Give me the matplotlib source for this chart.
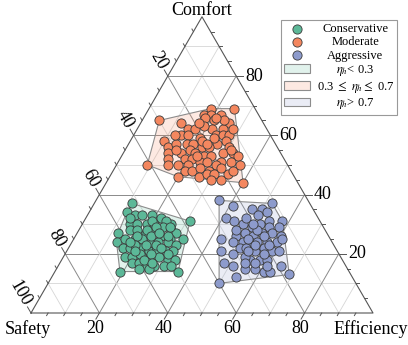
import numpy as np
import matplotlib.pyplot as plt
from matplotlib.colors import to_rgba

plt.rcParams['font.family'] = ['Liberation Serif', 'DejaVu Serif']
plt.rcParams['mathtext.fontset'] = 'stix'

# ternary values in percent, safety = 100 - comfort - efficiency
cons_comfort = [37, 34, 27, 24, 14, 14, 31, 25, 30, 33, 33, 33, 32, 31, 30, 30, 30, 30, 29, 28,
                27, 28, 28, 27, 27, 26, 25, 25, 25, 25, 24, 24, 24, 23, 22, 22, 22, 21, 21, 21,
                21, 19, 19, 19, 19, 19, 18, 18, 17, 17, 16, 16, 16, 16, 15, 15, 32, 31, 29, 28,
                26, 26, 26, 23, 23, 23, 22, 20, 20, 20, 18, 17, 21, 24, 27, 29]
cons_eff = [11, 11, 12, 13, 19, 36, 31, 32, 26, 14, 16, 19, 22, 24, 14, 16, 19, 21, 24, 27,
            29, 15, 17, 20, 22, 25, 28, 15, 18, 20, 23, 25, 28, 31, 16, 18, 21, 24, 26, 29,
            31, 18, 20, 23, 26, 28, 31, 33, 21, 23, 26, 28, 31, 33, 24, 27, 13, 20, 22, 20,
            18, 22, 27, 19, 22, 25, 27, 22, 25, 30, 24, 27, 20, 17, 24, 26]

mod_comfort = [65, 50, 69, 69, 44, 45, 64, 67, 67, 67, 66, 65, 64, 62, 62, 62, 62, 58, 60, 60,
               59, 60, 60, 60, 58, 57, 56, 56, 57, 57, 57, 56, 56, 54, 55, 54, 54, 54, 54, 53,
               52, 52, 52, 53, 53, 51, 51, 50, 50, 50, 51, 51, 50, 48, 48, 49, 48, 47, 48, 46,
               47, 47, 50, 58, 55, 53, 63, 65, 59, 66, 60, 57, 62, 49, 45, 55, 64, 46]
mod_eff = [5, 9, 18, 25, 40, 33, 12, 17, 19, 22, 18, 21, 26, 25, 22, 15, 17, 10, 14, 16,
           20, 24, 26, 28, 28, 26, 30, 12, 14, 17, 19, 22, 24, 17, 19, 21, 13, 29, 32, 34,
           14, 19, 21, 24, 26, 30, 33, 15, 18, 21, 24, 26, 29, 21, 23, 25, 28, 34, 35, 26,
           28, 30, 36, 21, 15, 22, 19, 24, 24, 21, 12, 23, 28, 31, 30, 31, 17, 20]

agg_comfort = [38, 10, 13, 37, 36, 32, 31, 35, 35, 34, 33, 31, 31, 30, 29, 30, 29, 29, 26, 27,
               26, 27, 27, 26, 25, 24, 24, 24, 24, 24, 24, 25, 21, 20, 22, 22, 21, 22, 21, 21,
               17, 16, 15, 15, 14, 14, 16, 12, 18, 18, 18, 19, 25, 23, 26, 23, 28, 20, 21, 17,
               16, 17, 28, 32, 30]
agg_eff = [36, 50, 69, 52, 41, 41, 44, 47, 50, 52, 50, 54, 58, 47, 50, 52, 55, 58, 47, 49,
           52, 54, 57, 60, 43, 47, 50, 52, 54, 57, 60, 61, 45, 49, 50, 52, 55, 57, 60, 62,
           48, 51, 55, 58, 61, 63, 65, 54, 58, 60, 55, 53, 51, 54, 55, 58, 46, 58, 53, 57,
           61, 54, 52, 47, 50]

groups = ['Conservative', 'Moderate', 'Aggressive']
colors = ['#5cb898', '#f4875f', '#8d9bcc']
hull_labels = [r'$\eta_h$< 0.3', r'0.3 $\leq$ $\eta_h$$\leq$ 0.7', r'$\eta_h$> 0.7']

SQ = np.sqrt(3) / 2
PX = 1 / 342


def to_xy(comfort, eff):
    c = np.asarray(comfort, float) / 100
    e = np.asarray(eff, float) / 100
    return e + c / 2, c * SQ


def convex_hull(x, y):
    pts = sorted(set(zip(x, y)))

    def cross(o, a, b):
        return (a[0] - o[0]) * (b[1] - o[1]) - (a[1] - o[1]) * (b[0] - o[0])

    lower, upper = [], []
    for p in pts:
        while len(lower) >= 2 and cross(lower[-2], lower[-1], p) <= 0:
            lower.pop()
        lower.append(p)
    for p in reversed(pts):
        while len(upper) >= 2 and cross(upper[-2], upper[-1], p) <= 0:
            upper.pop()
        upper.append(p)
    return np.array(lower[:-1] + upper[:-1])


fig = plt.figure(figsize=(4.08, 3.45), dpi=100)
ax = fig.add_axes([31 / 408, 32 / 345, 342 / 408, 296.2 / 345])
ax.set_xlim(0, 1)
ax.set_ylim(0, SQ)
ax.axis('off')

edge_col = '#555555'

# grid
for v in range(10, 100, 10):
    f = v / 100
    major = v % 20 == 0
    col = '#8a8a8a' if major else '#d6d6d6'
    lw = 0.7 if major else 0.6
    for (c0, e0), (c1, e1) in [((f, 0), (f, 1 - f)),
                               ((1 - f, 0), (0, 1 - f)),
                               ((0, f), (1 - f, f))]:
        x, y = to_xy([c0 * 100, c1 * 100], [e0 * 100, e1 * 100])
        ax.plot(x, y, color=col, lw=lw, zorder=1)

# triangle
tx, ty = to_xy([0, 0, 100, 0], [0, 100, 0, 0])
ax.plot(tx, ty, color=edge_col, lw=0.8, zorder=2, clip_on=False)

# ticks
tick_dirs = {
    'comfort': np.array([1.0, 0.0]),
    'safety': np.array([-0.5, SQ]),
    'eff': np.array([-0.5, -SQ]),
}


def edge_point(axis, v):
    if axis == 'comfort':
        return to_xy(v, 100 - v)
    if axis == 'safety':
        return to_xy(100 - v, 0)
    return to_xy(0, v)


major_ticks = {'comfort': [20, 40, 60, 80], 'safety': [20, 40, 60, 80, 100],
               'eff': [20, 40, 60, 80]}
for axis, d in tick_dirs.items():
    for v in range(5, 101, 5):
        if v == 100 and axis != 'safety':
            continue
        is_major = v in major_ticks[axis]
        L = (7 if is_major else 3) * PX
        x0, y0 = edge_point(axis, v)
        ax.plot([x0, x0 + d[0] * L], [y0, y0 + d[1] * L], color=edge_col,
                lw=0.7, clip_on=False, zorder=2)
        if is_major:
            gap = 9 * PX
            lx, ly = x0 + d[0] * gap, y0 + d[1] * gap
            if axis == 'comfort':
                ax.text(lx, ly, str(v), ha='left', va='center', fontsize=13)
            elif axis == 'safety':
                ax.text(lx, ly, str(v), ha='right', va='center', rotation=-60,
                        rotation_mode='anchor', fontsize=13)
            else:
                ax.text(lx, ly + 1 * PX, str(v), ha='center', va='top', fontsize=13)

ax.text(0.5, SQ + 2 * PX, 'Comfort', ha='center', va='baseline', fontsize=13)
ax.text(-26 * PX, -7 * PX, 'Safety', ha='left', va='top', fontsize=13)
ax.text(377 * PX, -7 * PX, 'Efficiency', ha='right', va='top', fontsize=13)

data = [(cons_comfort, cons_eff), (mod_comfort, mod_eff), (agg_comfort, agg_eff)]
scatters, fills = [], []
for (comf, eff), name, col, hl in zip(data, groups, colors, hull_labels):
    x, y = to_xy(comf, eff)
    h = convex_hull(x, y)
    fl = ax.fill(h[:, 0], h[:, 1], facecolor=to_rgba(col, 0.18), edgecolor='#8c8c8c',
                 lw=0.8, zorder=3, label=hl)[0]
    fills.append(fl)
    sc = ax.scatter(x, y, s=44, color=col, edgecolor='#3a3a3a', linewidth=0.6,
                    zorder=4, label=name)
    scatters.append(sc)

leg = ax.legend(scatters + fills, groups + hull_labels, loc='upper left',
                bbox_to_anchor=(281 / 408, 1 - 20 / 345), bbox_transform=fig.transFigure,
                borderaxespad=0, fontsize=9, fancybox=False, framealpha=1,
                edgecolor='#999999', handlelength=2.1, labelspacing=0.1,
                handletextpad=0.5, borderpad=0.25, scatterpoints=1)
leg.get_frame().set_linewidth(0.8)

# centre the legend texts in their column
fig.canvas.draw()
renderer = fig.canvas.get_renderer()
widths = [t.get_window_extent(renderer).width for t in leg.get_texts()]
w = max(widths)
for t, tw in zip(leg.get_texts(), widths):
    t.set_position(((w - tw) / 2, 0))

fig.savefig('out.png', dpi=100)
